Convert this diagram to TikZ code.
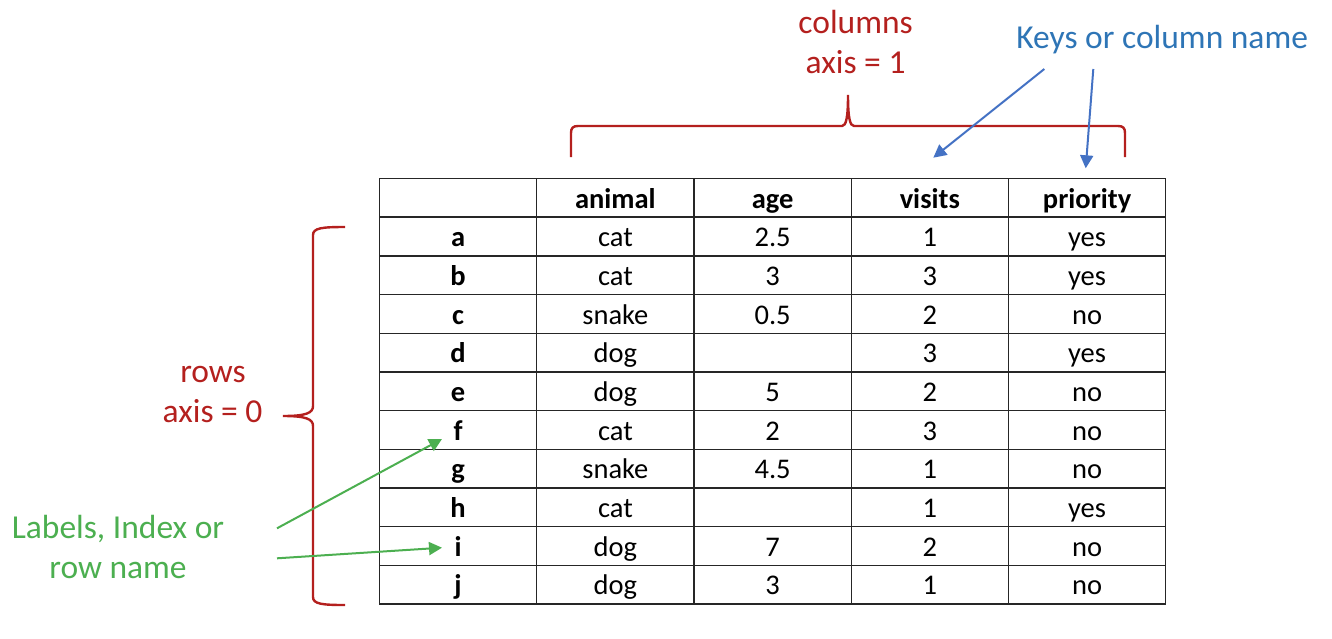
\documentclass[tikz,border=0pt]{standalone}
\usepackage{fontspec}
\setmainfont{Carlito}
\usetikzlibrary{arrows.meta}
\definecolor{axisred}{RGB}{180,32,30}
\definecolor{keyblue}{RGB}{46,117,182}
\definecolor{arrowblue}{RGB}{68,114,196}
\definecolor{idxgreen}{RGB}{76,175,80}
\tikzset{
  tbl/.style={line width=0.7pt,black!85},
  cell/.style={anchor=base,inner sep=0pt,font=\fontsize{14.25}{17}\selectfont},
  head/.style={cell,font=\fontsize{14.25}{17}\selectfont\bfseries},
  note/.style={anchor=base,inner sep=0pt,font=\fontsize{16.75}{20}\selectfont},
  brace/.style={line width=1.2pt,axisred},
  pointer/.style={line width=1pt,-{Triangle[length=6.5pt,width=6.5pt]}},
}
\begin{document}
\begin{tikzpicture}[x=0.5pt,y=-0.5pt]
\useasboundingbox (0,0) rectangle (1332,638);
% table grid
\draw[tbl] (379.5,178.5) rectangle (1165.7,604);
\foreach \r in {1,...,10}
  \draw[tbl] (379.5,178.5+\r*38.68) -- +(786.2,0);
\foreach \c in {1,...,4}
  \draw[tbl] (379.5+\c*157.24,178.5) -- +(0,425.5);
% header
\path
    (615.4 ,208.2) node [head] (hanimal)   {animal}
    (772.6 ,208.2) node [head] (hage)      {age}
    (929.8 ,208.2) node [head] (hvisits)   {visits}
    (1087.1,208.2) node [head] (hpriority) {priority};
% rows
\foreach \lbl/\an/\ag/\vi/\pr [count=\r] in
    {a/cat/2.5/1/yes, b/cat/3/3/yes, c/snake/0.5/2/no, d/dog//3/yes,
     e/dog/5/2/no, f/cat/2/3/no, g/snake/4.5/1/no, h/cat//1/yes,
     i/dog/7/2/no, j/dog/3/1/no}
{
  \path
      (458.1 ,169.5+\r*38.68+38.68) node [head] (row\lbl)   {\lbl}
      (615.4 ,169.5+\r*38.68+38.68) node [cell] (animal\lbl) {\an}
      (772.6 ,169.5+\r*38.68+38.68) node [cell] (age\lbl)    {\ag}
      (929.8 ,169.5+\r*38.68+38.68) node [cell] (visits\lbl) {\vi}
      (1087.1,169.5+\r*38.68+38.68) node [cell] (prio\lbl)   {\pr};
}
% columns brace
\draw[brace]
      (571,157) -- (571,133) .. controls (571,128) and (573,126) .. (578,126)
    -- (842,126) .. controls (846,126) and (848,118) .. (848,95)
      .. controls (848,118) and (850,126) .. (854,126)
    -- (1118,126) .. controls (1123,126) and (1125,128) .. (1125,133)
    -- (1125,157);
\path
      (855.6,33) node [note,axisred] (colsname) {columns}
      (855.6,73) node [note,axisred] (colsaxis) {axis = 1};
% rows brace
\draw[brace]
      (345,227) .. controls (322,227) and (313,228) .. (313,235)
    -- (313,406) .. controls (313,413) and (306,416) .. (283,416)
      .. controls (306,416) and (313,419) .. (313,426)
    -- (313,597) .. controls (313,604) and (322,605) .. (345,605);
\path
      (213,382) node [note,axisred] (rowsname) {rows}
      (212.5,422) node [note,axisred] (rowsaxis) {axis = 0};
% keys
\node [note,anchor=base west,keyblue] (keys) at (1016,48) {Keys or column name};
\coordinate (keysA) at (1044.3,69);
\coordinate (keysB) at (1093.3,69);
\coordinate (visitsTip) at (933.3,157.7);
\coordinate (prioTip) at (1085.7,168.3);
\draw[pointer,arrowblue] (keysA) -- (visitsTip);
\draw[pointer,arrowblue] (keysB) -- (prioTip);
% index labels
\path
      (118,538) node [note,idxgreen] (idxA) {Labels, Index or}
      (118,578) node [note,idxgreen] (idxB) {row name};
\coordinate (idxStartA) at (277,528.3);
\coordinate (idxStartB) at (277,558.3);
\coordinate (fTip) at (442,439);
\coordinate (iTip) at (442,547.7);
\draw[pointer,idxgreen] (idxStartA) -- (fTip);
\draw[pointer,idxgreen] (idxStartB) -- (iTip);
\end{tikzpicture}
\end{document}
